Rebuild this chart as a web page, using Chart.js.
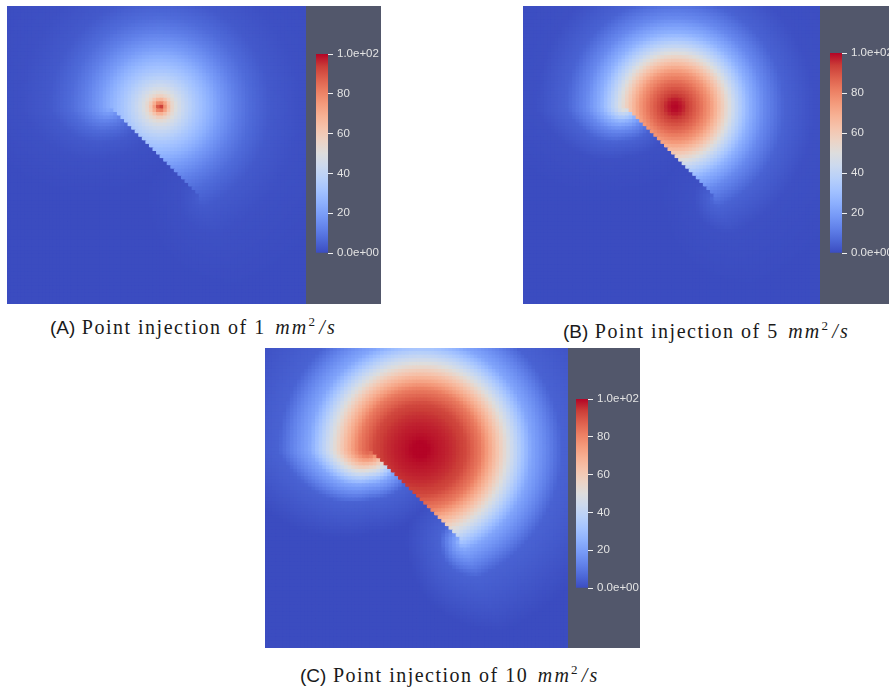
<!DOCTYPE html>
<html><head><meta charset="utf-8">
<script src="https://cdn.jsdelivr.net/npm/chart.js@4.4.0/dist/chart.umd.min.js"></script>
<style>
html,body{margin:0;padding:0;background:#fff;}
#fig{position:relative;width:889px;height:691px;overflow:hidden;background:#fff;}
.map,.bar{position:absolute;}
.bar{background:rgb(82,87,107);}
.map canvas,.bar canvas{display:block;}
.cap{position:absolute;white-space:nowrap;font:20px "Liberation Serif",serif;color:#1a1a1a;line-height:22px;letter-spacing:1.5px;}
.cap .tag{font-family:"Liberation Sans",sans-serif;font-size:19px;letter-spacing:0;}
.cap .math{font-style:italic;letter-spacing:2.2px;margin-left:3px;}
.cap sup{font-style:normal;font-size:13px;vertical-align:8px;line-height:0;margin-right:2px;}
</style></head><body><div id="fig"></div>
<script>
// Concentration field of a point injection next to a thin barrier.
// Domain is 0..300 units wide and tall, y pointing down.
const gridCells = 84;
const domainSize = 300;
const injectionPoint = [154, 102];
const barrierStart = [103.5, 103];
const barrierEnd = [195, 194];

// concentration against distance from the injection point
const profileRadius = [0, 4, 8, 12, 18, 25, 35, 45, 60, 75, 90, 110, 140, 200];
const profileA = [100, 80, 65, 55, 47, 41, 34, 28, 19, 12, 7, 3, 1, 0];
const profileB = [100, 99, 97, 94, 90, 85, 76, 63, 42, 25, 14, 5, 1, 0];
const profileC = [100, 100, 100, 99, 98, 97, 95, 92, 82, 64, 45, 22, 5, 0];
// extra path cost for bending round a barrier end (per right angle)
const shadowPenalty = 0.8;

const colorbarTicks = [0, 20, 40, 60, 80, 100];
const captionTags = ['(A)', '(B)', '(C)'];
const injectionRates = ['1', '5', '10'];

// Cool to Warm colour map
const coolWarm = [
  [0.0, 59, 76, 192], [0.0625, 77, 104, 215], [0.125, 98, 130, 234], [0.1875, 119, 154, 247],
  [0.25, 141, 176, 254], [0.3125, 163, 194, 255], [0.375, 184, 208, 249], [0.4375, 204, 217, 238],
  [0.5, 221, 221, 221], [0.5625, 236, 211, 197], [0.625, 245, 196, 173], [0.6875, 247, 177, 148],
  [0.75, 244, 154, 123], [0.8125, 236, 127, 99], [0.875, 222, 96, 77], [0.9375, 203, 62, 56],
  [1.0, 180, 4, 38]
];

function colorAt(t) {
  t = Math.max(0, Math.min(1, t));
  for (let k = 1; k < coolWarm.length; k++) {
    const a = coolWarm[k - 1], b = coolWarm[k];
    if (t <= b[0]) {
      const f = (t - a[0]) / (b[0] - a[0]);
      const c = [1, 2, 3].map(i => Math.round(a[i] + (b[i] - a[i]) * f));
      return `rgb(${c[0]},${c[1]},${c[2]})`;
    }
  }
  return 'rgb(180,4,38)';
}

function dist(p, q) { return Math.hypot(p[0] - q[0], p[1] - q[1]); }
function orient(a, b, c) { return (b[0] - a[0]) * (c[1] - a[1]) - (b[1] - a[1]) * (c[0] - a[0]); }
function crosses(p1, p2, q1, q2) {
  const d1 = orient(q1, q2, p1), d2 = orient(q1, q2, p2);
  const d3 = orient(p1, p2, q1), d4 = orient(p1, p2, q2);
  return (d1 * d2 < 0) && (d3 * d4 < 0);
}
function lookup(profile, r) {
  for (let k = 1; k < profileRadius.length; k++) {
    if (r <= profileRadius[k]) {
      const f = (r - profileRadius[k - 1]) / (profileRadius[k] - profileRadius[k - 1]);
      return profile[k - 1] + (profile[k] - profile[k - 1]) * f;
    }
  }
  return profile[profile.length - 1];
}
// path length from the source round one end of the barrier
function bentPath(end, p) {
  const a = [end[0] - injectionPoint[0], end[1] - injectionPoint[1]];
  const b = [p[0] - end[0], p[1] - end[1]];
  const la = Math.hypot(a[0], a[1]), lb = Math.hypot(b[0], b[1]);
  if (lb < 1e-9) return la;
  const cosT = Math.max(-1, Math.min(1, (a[0] * b[0] + a[1] * b[1]) / (la * lb)));
  const turn = Math.min(1, Math.acos(cosT) / (Math.PI / 2));
  return la + lb * (1 + shadowPenalty * turn);
}
function fieldValue(profile, p) {
  const d = crosses(injectionPoint, p, barrierStart, barrierEnd)
    ? Math.min(bentPath(barrierStart, p), bentPath(barrierEnd, p))
    : dist(injectionPoint, p);
  return lookup(profile, d);
}

function cellsFor(profile) {
  const cs = domainSize / gridCells, pts = [];
  for (let j = 0; j < gridCells; j++) {
    for (let i = 0; i < gridCells; i++) {
      const p = [(i + 0.5) * cs, (j + 0.5) * cs];
      pts.push({ x: p[0], y: p[1], v: fieldValue(profile, p) });
    }
  }
  return pts;
}

function sci(v) {
  const [m, e] = v.toExponential(1).split('e');
  return m + 'e' + e[0] + e.slice(1).padStart(2, '0');
}

// page layout of the three panels
const layout = [
  { profile: profileA, map: [7, 6, 299, 298], bar: [306, 6, 75, 298], pad: [10, 48, 51], axisW: 53, cap: [50, 316] },
  { profile: profileB, map: [523, 6, 297, 298], bar: [820, 6, 69, 298], pad: [10, 47, 51], axisW: 47, cap: [563, 320] },
  { profile: profileC, map: [265, 348, 303, 300], bar: [568, 348, 72, 300], pad: [8, 51, 60], axisW: 52, cap: [300, 664] }
];

const fig = document.getElementById('fig');
function box(cls, r) {
  const d = document.createElement('div');
  d.className = cls;
  Object.assign(d.style, { left: r[0] + 'px', top: r[1] + 'px', width: r[2] + 'px', height: r[3] + 'px' });
  const c = document.createElement('canvas');
  c.width = r[2]; c.height = r[3];
  d.appendChild(c); fig.appendChild(d);
  return c;
}

const cellSize = domainSize / gridCells;
layout.forEach((pn, idx) => {
  // heat map
  new Chart(box('map', pn.map), {
    type: 'scatter',
    data: { datasets: [{
      data: cellsFor(pn.profile),
      pointStyle: 'rect',
      borderWidth: 0,
      pointBorderWidth: 0,
      pointRadius: ctx => {
        const xs = ctx.chart.scales.x, ys = ctx.chart.scales.y;
        const w = Math.abs(xs.getPixelForValue(cellSize) - xs.getPixelForValue(0));
        const h = Math.abs(ys.getPixelForValue(cellSize) - ys.getPixelForValue(0));
        return (Math.max(w, h) / 2 + 0.45) / Math.SQRT1_2;
      },
      pointBackgroundColor: ctx => colorAt(ctx.raw.v / 100)
    }] },
    options: {
      responsive: false, animation: false, events: [], devicePixelRatio: 1,
      layout: { padding: 0 },
      plugins: { legend: { display: false }, tooltip: { enabled: false } },
      scales: {
        x: { type: 'linear', min: 0, max: domainSize, display: false },
        y: { type: 'linear', min: 0, max: domainSize, reverse: true, display: false }
      }
    }
  });

  // colour bar
  new Chart(box('bar', pn.bar), {
    type: 'bar',
    data: { labels: [''], datasets: [{
      data: [[0, 100]],
      borderWidth: 0,
      barPercentage: 1,
      categoryPercentage: 1,
      backgroundColor: ctx => {
        const ys = ctx.chart.scales.y;
        if (!ys || !ctx.chart.chartArea) return 'rgb(221,221,221)';
        const g = ctx.chart.ctx.createLinearGradient(0, ys.getPixelForValue(0), 0, ys.getPixelForValue(100));
        coolWarm.forEach(s => g.addColorStop(s[0], `rgb(${s[1]},${s[2]},${s[3]})`));
        return g;
      }
    }] },
    options: {
      responsive: false, animation: false, events: [], devicePixelRatio: 1,
      layout: { padding: { left: pn.pad[0], top: pn.pad[1], bottom: pn.pad[2], right: 0 } },
      plugins: { legend: { display: false }, tooltip: { enabled: false } },
      scales: {
        x: { display: false },
        y: {
          position: 'right', min: 0, max: 100,
          afterBuildTicks: s => { s.ticks = colorbarTicks.map(v => ({ value: v })); },
          afterFit: s => { s.width = pn.axisW; },
          ticks: {
            color: '#e4e4e4', padding: 4,
            font: { family: '"Liberation Sans", Arial, sans-serif', size: 11.5 },
            callback: v => (v === 0 || v === 100) ? sci(v) : String(v)
          },
          grid: { drawOnChartArea: false, drawTicks: true, tickLength: 5, color: '#f0f0f0', lineWidth: 1 },
          border: { display: false }
        }
      }
    }
  });

  // caption
  const cap = document.createElement('div');
  cap.className = 'cap';
  cap.style.left = pn.cap[0] + 'px';
  cap.style.top = pn.cap[1] + 'px';
  cap.innerHTML = `<span class="tag">${captionTags[idx]}</span> Point injection of ${injectionRates[idx]} <span class="math">mm<sup>2</sup>/s</span>`;
  fig.appendChild(cap);
});
</script></body></html>
